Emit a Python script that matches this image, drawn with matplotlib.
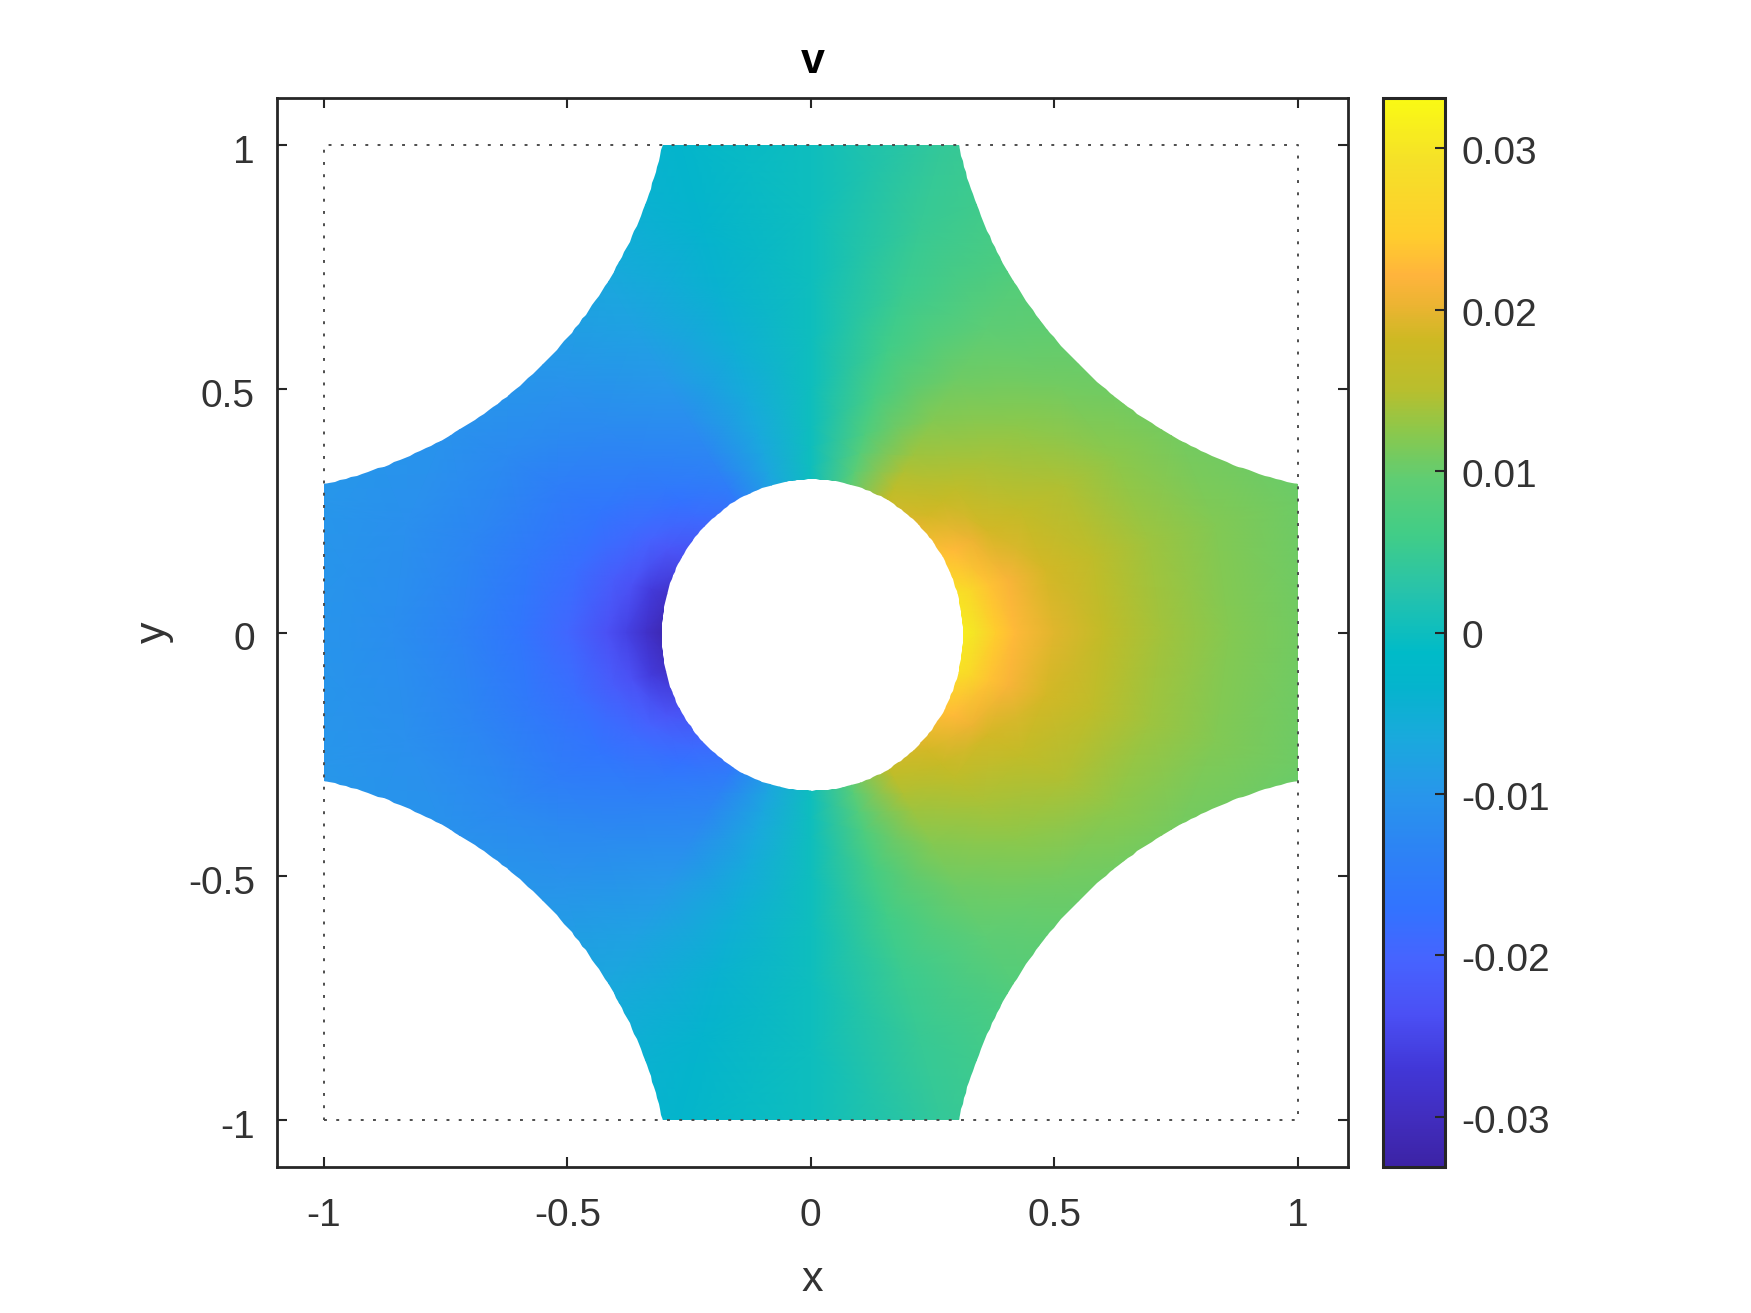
import numpy as np
import matplotlib
matplotlib.use('Agg')
import matplotlib.pyplot as plt
from matplotlib.colors import LinearSegmentedColormap
from matplotlib.patches import PathPatch
from matplotlib.path import Path
from matplotlib.transforms import ScaledTranslation

plt.rcParams['font.family'] = ['Liberation Sans', 'DejaVu Sans']

# v sampled on rays from the hole centre, angle measured from the x axis
radii = [0.28, 0.34, 0.38, 0.42, 0.50, 0.60, 0.72, 0.86, 1.08]
angles_deg = [0, 15, 30, 45, 60, 75, 90]

# x > 0
v_r0 = [0.0331, 0.0295, 0.0245, 0.0225, 0.0195, 0.0165, 0.0138, 0.0120, 0.0102]
v_r15 = [0.0305, 0.0270, 0.0235, 0.0215, 0.0185, 0.0160, 0.0135, 0.0118, 0.0102]
v_r30 = [0.0245, 0.0225, 0.0205, 0.0185, 0.0165, 0.0145, 0.0125, 0.0108, 0.0095]
v_r45 = [0.0210, 0.0185, 0.0172, 0.0158, 0.0140, 0.0125, 0.0108, 0.0095, 0.0085]
v_r60 = [0.0175, 0.0158, 0.0145, 0.0135, 0.0120, 0.0105, 0.0092, 0.0080, 0.0070]
v_r75 = [0.0095, 0.0088, 0.0082, 0.0076, 0.0068, 0.0060, 0.0053, 0.0047, 0.0042]
v_r90 = [0.0, 0.0, 0.0, 0.0, 0.0, 0.0, 0.0, 0.0, 0.0]

# x < 0
v_l0 = [-0.0331, -0.0285, -0.0255, -0.0235, -0.0195, -0.0165, -0.0135, -0.0115, -0.0098]
v_l15 = [-0.0300, -0.0265, -0.0235, -0.0215, -0.0182, -0.0155, -0.0130, -0.0112, -0.0097]
v_l30 = [-0.0245, -0.0225, -0.0205, -0.0188, -0.0165, -0.0145, -0.0122, -0.0105, -0.0092]
v_l45 = [-0.0210, -0.0185, -0.0172, -0.0158, -0.0138, -0.0120, -0.0105, -0.0090, -0.0075]
v_l60 = [-0.0165, -0.0150, -0.0138, -0.0130, -0.0115, -0.0095, -0.0080, -0.0065, -0.0050]
v_l75 = [-0.0075, -0.0072, -0.0069, -0.0066, -0.0060, -0.0050, -0.0041, -0.0033, -0.0027]
v_l90 = [0.0, 0.0, 0.0, 0.0, 0.0, 0.0, 0.0, 0.0, 0.0]

v_limit = 0.0331
ticks_xy = [-1, -0.5, 0, 0.5, 1]
tick_labels_xy = ['-1', '-0.5', '0', '0.5', '1']
ticks_cb = [-0.03, -0.02, -0.01, 0, 0.01, 0.02, 0.03]
tick_labels_cb = ['-0.03', '-0.02', '-0.01', '0', '0.01', '0.02', '0.03']

cmap_stops = [
    (0.000, (60, 35, 165)), (0.045, (65, 45, 190)), (0.091, (65, 55, 215)),
    (0.143, (75, 80, 245)), (0.195, (70, 100, 255)), (0.241, (50, 115, 255)),
    (0.293, (45, 130, 245)), (0.348, (40, 150, 235)), (0.403, (25, 170, 220)),
    (0.449, (5, 180, 205)), (0.481, (0, 187, 200)), (0.540, (40, 195, 170)),
    (0.592, (65, 205, 135)), (0.644, (95, 205, 115)), (0.689, (140, 200, 75)),
    (0.728, (185, 190, 45)), (0.774, (205, 185, 35)), (0.806, (235, 180, 50)),
    (0.835, (255, 180, 60)), (0.871, (255, 205, 45)), (0.943, (245, 225, 40)),
    (1.000, (250, 250, 20)),
]
cmap = LinearSegmentedColormap.from_list(
    'field', [(p, tuple(c / 255 for c in rgb)) for p, rgb in cmap_stops], N=512)

ink = '#262626'
text_ink = '#333333'

# even about the x axis: reflect each half to get the lower quadrants
quad_r = np.array([v_r0, v_r15, v_r30, v_r45, v_r60, v_r75, v_r90])
quad_l = np.array([v_l0, v_l15, v_l30, v_l45, v_l60, v_l75, v_l90])
right = np.vstack([quad_r[:0:-1], quad_r])
left = np.vstack([quad_l[:0:-1], quad_l])
v_full = np.vstack([left[:-1], right])

sweep = np.array(angles_deg, dtype=float)
sweep = np.concatenate([-sweep[:0:-1], sweep])
theta_full = np.radians(np.concatenate([sweep[:-1] + 180, sweep + 360]))
rr, tt = np.meshgrid(radii, theta_full)
xx = rr * np.cos(tt)
yy = rr * np.sin(tt)


def domain_path():
    # four concave arcs joined by the square's edges, and the hole
    c, arc_r = 1.195, 0.912
    start = np.degrees(np.arcsin((c - 1) / arc_r))
    pieces = []
    for sx, sy, a0 in [(1, 1, 270), (-1, 1, 0), (-1, -1, 90), (1, -1, 180)]:
        a = np.radians(np.linspace(a0 - start, a0 - 90 + start, 90))
        pieces.append(np.column_stack([sx * c + arc_r * np.cos(a), sy * c + arc_r * np.sin(a)]))
    outer = np.vstack(pieces)
    outer = np.vstack([outer, outer[:1]])
    a = np.linspace(0, -2 * np.pi, 241)
    hole = np.column_stack([0.003 + 0.309 * np.cos(a), -0.005 + 0.319 * np.sin(a)])
    all_verts = np.vstack([outer, hole])
    codes = np.full(len(all_verts), Path.LINETO)
    codes[0] = Path.MOVETO
    codes[len(outer)] = Path.MOVETO
    return Path(all_verts, codes)


fig = plt.figure(figsize=(17.51, 13.13), dpi=100)
W, H = 1751.0, 1313.0
ax = fig.add_axes([277 / W, 1 - 1167 / H, (1348 - 277) / W, (1167 - 98) / H])
cax = fig.add_axes([1383 / W, 1 - 1167 / H, (1445 - 1383) / W, (1167 - 98) / H])

mesh = ax.pcolormesh(xx, yy, v_full, shading='gouraud', cmap=cmap,
                     vmin=-v_limit, vmax=v_limit, rasterized=True)
clip = PathPatch(domain_path(), transform=ax.transData, facecolor='none', edgecolor='none')
ax.add_patch(clip)
mesh.set_clip_path(clip)

# dotted outline of the unit square
ax.plot([-1, 1, 1, -1, -1], [-1, -1, 1, 1, -1], color='#4d4d4d', lw=1.4,
        linestyle=(0, (1.5, 4.8)), zorder=3)

ax.set_xlim(-1.096, 1.103)
ax.set_ylim(-1.096, 1.096)
ax.set_xticks(ticks_xy)
ax.set_xticklabels(tick_labels_xy)
ax.set_yticks(ticks_xy)
ax.set_yticklabels(tick_labels_xy)
ax.tick_params(direction='in', length=7, width=1.5, color=ink, labelcolor=text_ink,
               labelsize=28, top=True, right=True)
ax.tick_params(axis='x', pad=22)
ax.tick_params(axis='y', pad=16)
for lbl in ax.get_yticklabels():
    lbl.set_transform(lbl.get_transform() + ScaledTranslation(0, -4 / 100, fig.dpi_scale_trans))
for spine in ax.spines.values():
    spine.set_linewidth(2.0)
    spine.set_color(ink)

ax.set_xlabel('x', fontsize=31, color=text_ink, labelpad=19)
ax.set_ylabel('y', fontsize=31, color=text_ink, labelpad=10)
ax.set_title('v', fontsize=31, fontweight='bold', color='black', pad=18)

cb = fig.colorbar(mesh, cax=cax)
cb.set_ticks(ticks_cb)
cb.set_ticklabels(tick_labels_cb)
cax.tick_params(direction='in', length=7, width=1.5, color=ink, labelcolor=text_ink,
                labelsize=28, pad=12)
for lbl in cax.get_yticklabels():
    lbl.set_transform(lbl.get_transform() + ScaledTranslation(0, -2 / 100, fig.dpi_scale_trans))
cb.outline.set_linewidth(2.2)
cb.outline.set_edgecolor(ink)

fig.savefig('out.png', dpi=100, facecolor='white')
